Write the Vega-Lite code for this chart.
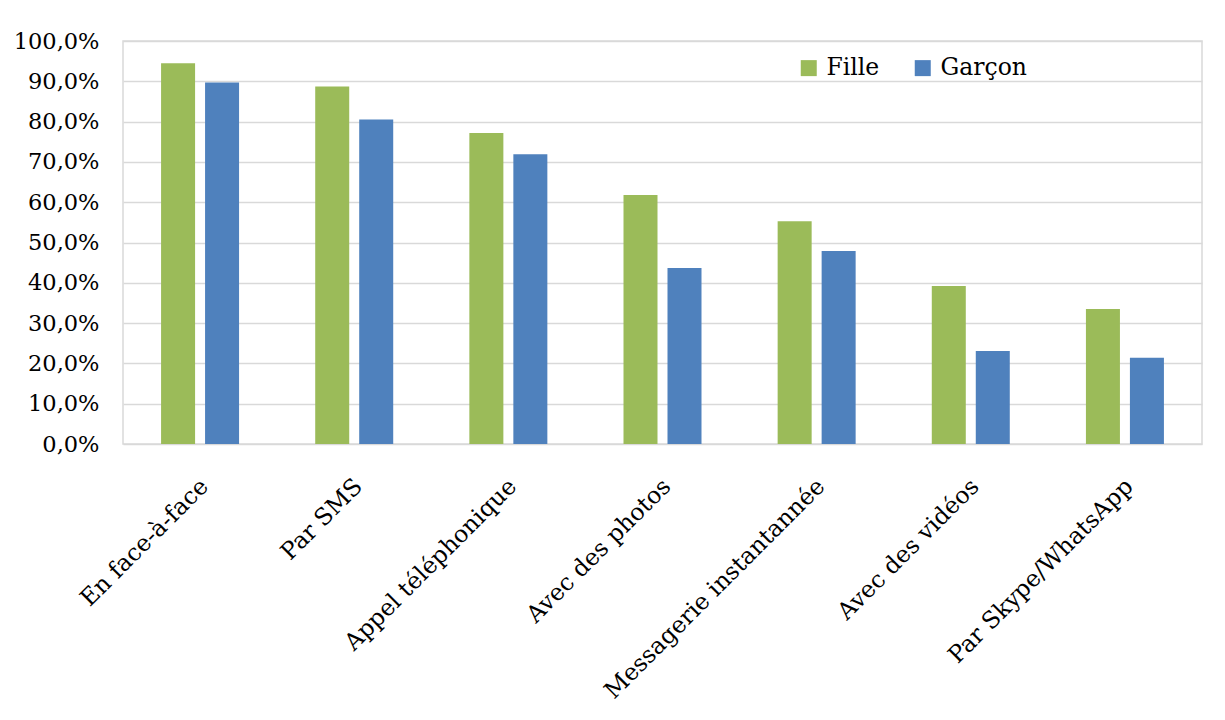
{
  "$schema": "https://vega.github.io/schema/vega-lite/v6.json",
  "width": 1079,
  "height": 403,
  "autosize": "none",
  "padding": {"left": 123, "top": 41, "right": 23, "bottom": 276},
  "background": "white",
  "data": {
    "values": [
      {"mode": "En face-à-face", "sexe": "Fille", "part": 0.945},
      {"mode": "En face-à-face", "sexe": "Garçon", "part": 0.897},
      {"mode": "Par SMS", "sexe": "Fille", "part": 0.887},
      {"mode": "Par SMS", "sexe": "Garçon", "part": 0.805},
      {"mode": "Appel téléphonique", "sexe": "Fille", "part": 0.772},
      {"mode": "Appel téléphonique", "sexe": "Garçon", "part": 0.719},
      {"mode": "Avec des photos", "sexe": "Fille", "part": 0.618},
      {"mode": "Avec des photos", "sexe": "Garçon", "part": 0.437},
      {"mode": "Messagerie instantannée", "sexe": "Fille", "part": 0.553},
      {"mode": "Messagerie instantannée", "sexe": "Garçon", "part": 0.479},
      {"mode": "Avec des vidéos", "sexe": "Fille", "part": 0.392},
      {"mode": "Avec des vidéos", "sexe": "Garçon", "part": 0.231},
      {"mode": "Par Skype/WhatsApp", "sexe": "Fille", "part": 0.335},
      {"mode": "Par Skype/WhatsApp", "sexe": "Garçon", "part": 0.214}
    ]
  },
  "mark": {"type": "bar"},
  "encoding": {
    "x": {
      "field": "mode", "type": "nominal", "sort": null, "title": null,
      "scale": {"paddingInner": 0.494, "paddingOuter": 0.247},
      "axis": {"labelAngle": -45, "labelAlign": "right", "labelBaseline": "top", "labelPadding": 30, "labelOffset": -4, "ticks": false, "domain": false, "grid": false, "labelFont": "DejaVu Serif", "labelFontSize": 23.5, "labelColor": "#000000", "labelLimit": 400}
    },
    "xOffset": {"field": "sexe", "type": "nominal", "sort": ["Fille", "Garçon"], "scale": {"paddingInner": 0.227, "paddingOuter": 0}},
    "y": {
      "field": "part", "type": "quantitative", "title": null,
      "scale": {"domain": [0, 1], "nice": false},
      "axis": {"values": [0, 0.1, 0.2, 0.3, 0.4, 0.5, 0.6, 0.7, 0.8, 0.9, 1], "format": ".1%", "ticks": false, "domain": false, "labelPadding": 24, "labelFont": "DejaVu Serif", "labelFontSize": 22.5, "labelColor": "#000000", "gridColor": "#d9d9d9", "gridWidth": 1.5}
    },
    "color": {
      "field": "sexe", "type": "nominal", "sort": ["Fille", "Garçon"],
      "scale": {"domain": ["Fille", "Garçon"], "range": ["#9BBB59", "#4F81BD"]},
      "legend": {"title": null, "orient": "none", "legendX": 674, "legendY": 15, "direction": "horizontal", "columns": 2, "padding": 0, "columnPadding": 31, "symbolType": "square", "symbolSize": 256, "symbolStrokeWidth": 0, "labelOffset": 6, "labelFont": "DejaVu Serif", "labelFontSize": 23.5, "labelColor": "#000000"}
    }
  },
  "config": {
    "view": {"stroke": "#d9d9d9", "strokeWidth": 1.5},
    "locale": {"number": {"decimal": ",", "thousands": "\u00a0", "grouping": [3], "currency": ["", " €"]}}
  }
}
